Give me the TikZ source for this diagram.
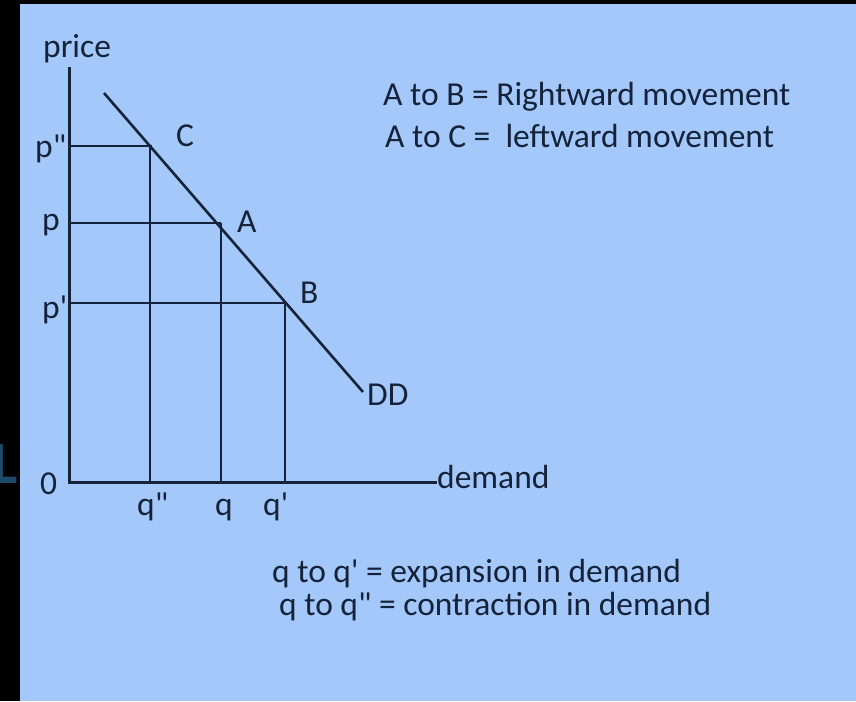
\documentclass[tikz,border=0pt]{standalone}
\usepackage{fontspec}
\setmainfont{Carlito}[Ligatures=TeXOff]
\definecolor{bg}{HTML}{A4C8FA}
\definecolor{ink}{HTML}{14223A}
\definecolor{tealtxt}{HTML}{1D4A68}
\tikzset{
  txt/.style={inner sep=0pt, anchor=base west, font=\fontsize{33.5}{40}\selectfont, text=ink},
  axis/.style={draw=ink, line width=3pt},
  guide/.style={draw=ink, line width=2.9pt},
  ddline/.style={draw=ink, line width=2.6pt}
}
\begin{document}
\begin{tikzpicture}[x=1pt,y=-1pt]
\useasboundingbox (0,0) rectangle (856,701);
\clip (0,0) rectangle (856,701);
\fill[black] (0,0) rectangle (856,701);
\node[inner sep=0pt, anchor=base west, font=\fontsize{60}{70}\selectfont\bfseries, text=tealtxt] (frag) at (-8,483) {L};
\fill[bg] (20,4) rectangle (856,701);

% axes
\coordinate (O) at (69,482);
\coordinate (Ytop) at (69,67);
\coordinate (Xend) at (437,482);
\draw[axis] (Ytop) -- (O) -- (Xend);

% points on demand curve
\coordinate (C) at (150,146);
\coordinate (A) at (221,223);
\coordinate (B) at (285,303);
\coordinate (pC) at (69,146);
\coordinate (pA) at (69,223);
\coordinate (pB) at (69,303);
\coordinate (qC) at (150,482);
\coordinate (qA) at (221,482);
\coordinate (qB) at (285,482);
\coordinate (DDs) at (104,93);
\coordinate (DDe) at (363,392);

\draw[guide] (pC) -- ([xshift=2pt]C);
\draw[guide] (pA) -- (A);
\draw[guide] (pB) -- (B);
\draw[guide] (C) -- (qC);
\draw[guide] (A) -- (qA);
\draw[guide] (B) -- (qB);
\draw[ddline] (DDs) -- (DDe);

% labels
\node[txt] (price) at (43,57) {price};
\node[txt] (ppp) at (35,157) {p"};
\node[txt] (pp) at (42,230) {p};
\node[txt] (p1) at (42,318) {p'};
\node[txt] (zero) at (40,494) {0};
\node[txt] (lC) at (176,146) {C};
\node[txt] (lA) at (237,232) {A};
\node[txt] (lB) at (300,303) {B};
\node[txt] (lDD) at (367,405) {DD};
\node[txt] (ldem) at (437,488) {demand};
\node[txt] (qpp) at (137,515) {q"};
\node[txt] (q) at (215,515) {q};
\node[txt] (q1) at (263,515) {q'};

\node[txt] (t1) at (383,105) {A to B = Rightward movement};
\node[txt] (t2) at (385,147) {A to C =\ \ leftward movement};
\node[txt] (t3) at (272,582) {q to q' = expansion in demand};
\node[txt] (t4) at (279,615) {q to q" = contraction in demand};
\end{tikzpicture}
\end{document}
